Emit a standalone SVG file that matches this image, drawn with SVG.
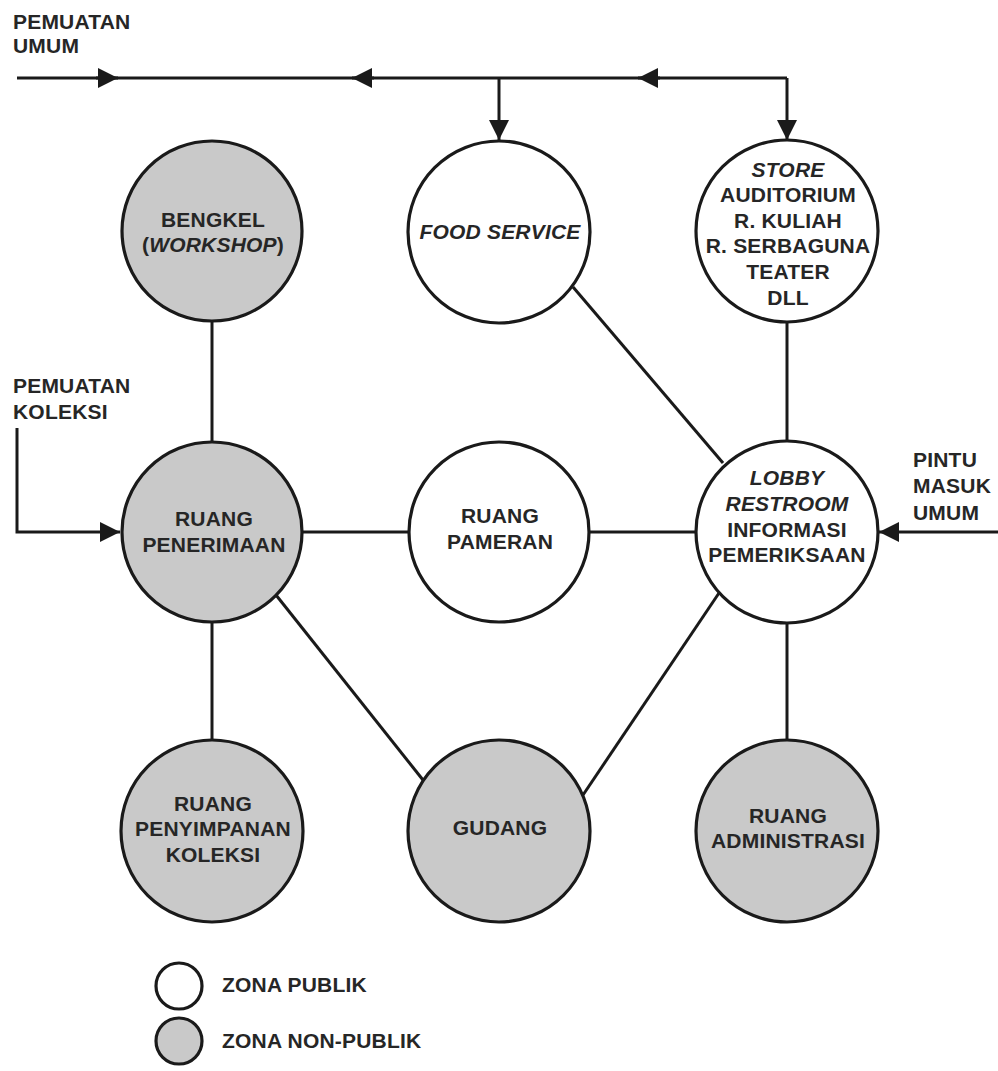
<svg xmlns="http://www.w3.org/2000/svg" width="998" height="1071" viewBox="0 0 998 1071">
<defs>
<style>
.pub{fill:#ffffff;stroke:#1a1a1a;stroke-width:3.2}
.non{fill:#c9c9c9;stroke:#1a1a1a;stroke-width:3.2}
.ln{fill:none;stroke:#1a1a1a;stroke-width:3}
text{font-family:"Liberation Sans",Arial,Helvetica,sans-serif;font-weight:bold;font-size:21px;fill:#262626;letter-spacing:0.2px}
.c{text-anchor:middle}
.i{font-style:italic}
</style>
<marker id="ah" viewBox="0 0 20 20" markerWidth="20" markerHeight="20" refX="20" refY="10" orient="auto" markerUnits="userSpaceOnUse">
<path d="M0,0 L20,10 L0,20 z" fill="#1a1a1a"/>
</marker>
</defs>
<rect width="998" height="1071" fill="#ffffff"/>

<g id="connectors">
<line class="ln" x1="17" y1="78" x2="787" y2="78"/>
<path class="ln" d="M96,78 L118,78" marker-end="url(#ah)"/>
<path class="ln" d="M374,78 L352,78" marker-end="url(#ah)"/>
<path class="ln" d="M660,78 L638,78" marker-end="url(#ah)"/>
<path class="ln" d="M499,78 L499,140" marker-end="url(#ah)"/>
<path class="ln" d="M787,78 L787,140" marker-end="url(#ah)"/>
<path class="ln" d="M17,428 L17,532 L120,532" marker-end="url(#ah)"/>
<path class="ln" d="M998,532 L879,532" marker-end="url(#ah)"/>
<line class="ln" x1="212" y1="321" x2="212" y2="442"/>
<line class="ln" x1="787" y1="321" x2="787" y2="442"/>
<line class="ln" x1="573" y1="287" x2="723" y2="463"/>
<line class="ln" x1="302" y1="532" x2="408" y2="532"/>
<line class="ln" x1="590" y1="532" x2="697" y2="532"/>
<line class="ln" x1="212" y1="622" x2="212" y2="740"/>
<line class="ln" x1="787" y1="622" x2="787" y2="740"/>
<line class="ln" x1="276" y1="595" x2="423" y2="780"/>
<line class="ln" x1="719" y1="593" x2="583" y2="795"/>
</g>

<g id="label-pemuatan-umum">
<text x="13" y="29">PEMUATAN</text>
<text x="13" y="53">UMUM</text>
</g>
<g id="label-pemuatan-koleksi">
<text x="13" y="393">PEMUATAN</text>
<text x="13" y="419">KOLEKSI</text>
</g>
<g id="label-pintu-masuk">
<text x="913" y="467">PINTU</text>
<text x="913" y="493">MASUK</text>
<text x="913" y="520">UMUM</text>
</g>

<g id="node-bengkel">
<circle class="non" cx="212" cy="231" r="90"/>
<text class="c" x="213" y="227">BENGKEL</text>
<text class="c" x="213" y="252">(<tspan class="i">WORKSHOP</tspan>)</text>
</g>
<g id="node-food-service">
<circle class="pub" cx="499" cy="232" r="91"/>
<text class="c i" x="500" y="239">FOOD SERVICE</text>
</g>
<g id="node-store">
<circle class="pub" cx="787" cy="231" r="91"/>
<text class="c i" x="788" y="177">STORE</text>
<text class="c" x="788" y="202">AUDITORIUM</text>
<text class="c" x="788" y="228">R. KULIAH</text>
<text class="c" x="788" y="253">R. SERBAGUNA</text>
<text class="c" x="788" y="279">TEATER</text>
<text class="c" x="788" y="305">DLL</text>
</g>
<g id="node-penerimaan">
<circle class="non" cx="212" cy="532" r="90"/>
<text class="c" x="214" y="526">RUANG</text>
<text class="c" x="214" y="552">PENERIMAAN</text>
</g>
<g id="node-pameran">
<circle class="pub" cx="499" cy="532" r="90"/>
<text class="c" x="500" y="523">RUANG</text>
<text class="c" x="500" y="549">PAMERAN</text>
</g>
<g id="node-lobby">
<circle class="pub" cx="787" cy="532" r="91"/>
<text class="c i" x="787" y="485">LOBBY</text>
<text class="c i" x="787" y="511">RESTROOM</text>
<text class="c" x="787" y="537">INFORMASI</text>
<text class="c" x="787" y="562">PEMERIKSAAN</text>
</g>
<g id="node-penyimpanan">
<circle class="non" cx="212" cy="831" r="91"/>
<text class="c" x="213" y="811">RUANG</text>
<text class="c" x="213" y="836">PENYIMPANAN</text>
<text class="c" x="213" y="862">KOLEKSI</text>
</g>
<g id="node-gudang">
<circle class="non" cx="499" cy="831" r="91"/>
<text class="c" x="500" y="835">GUDANG</text>
</g>
<g id="node-administrasi">
<circle class="non" cx="787" cy="831" r="91"/>
<text class="c" x="788" y="823">RUANG</text>
<text class="c" x="788" y="848">ADMINISTRASI</text>
</g>

<g id="legend">
<circle class="pub" cx="179" cy="986" r="23"/>
<text x="222" y="992">ZONA PUBLIK</text>
<circle class="non" cx="179" cy="1041" r="23"/>
<text x="222" y="1048">ZONA NON-PUBLIK</text>
</g>
</svg>
